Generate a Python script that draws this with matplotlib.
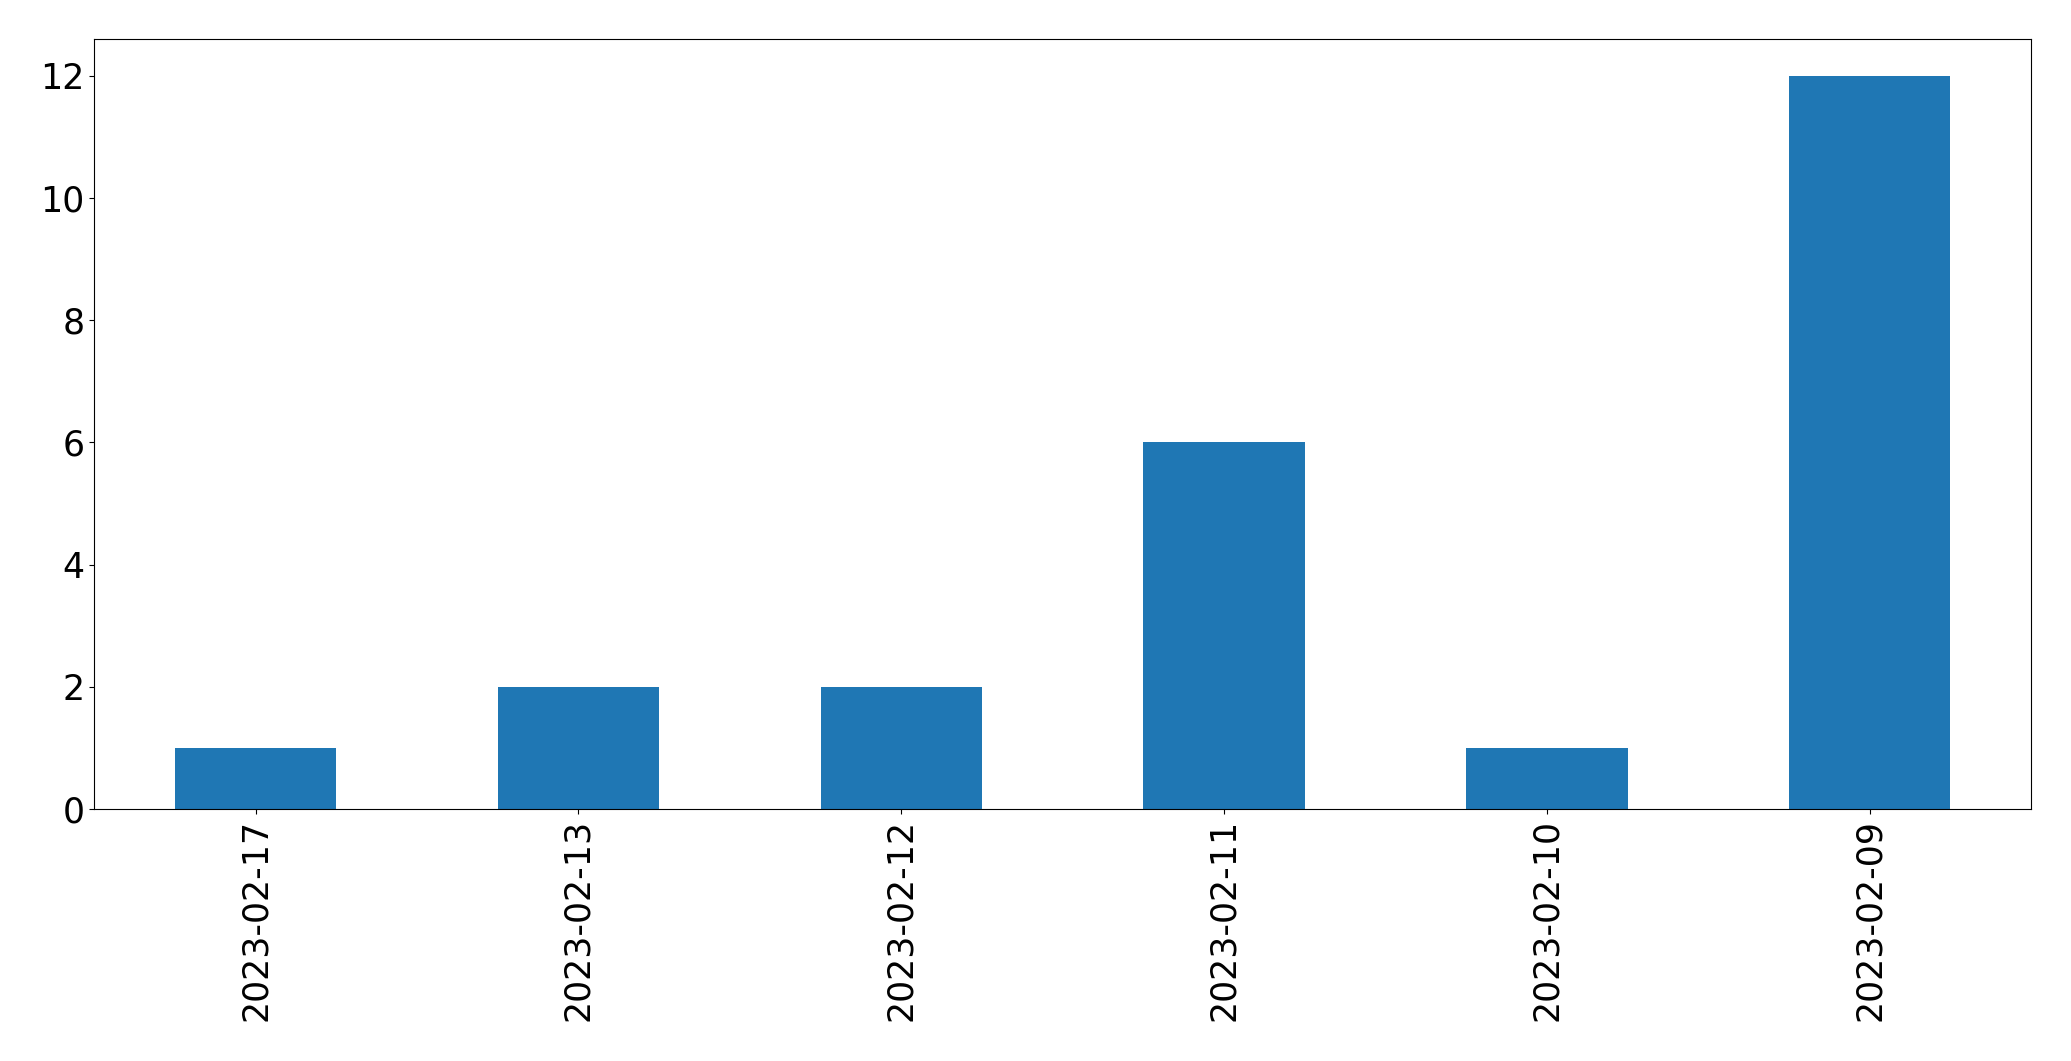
import matplotlib
matplotlib.use("Agg")
import matplotlib.pyplot as plt

dates = ["2023-02-17", "2023-02-13", "2023-02-12", "2023-02-11", "2023-02-10", "2023-02-09"]
counts = [1, 2, 2, 6, 1, 12]

fig = plt.figure(figsize=(20.71, 10.61), dpi=100)
ax = fig.add_axes([94.3 / 2071, 1 - 809 / 1061, (2031 - 94.3) / 2071, (809 - 39.3) / 1061])
x = list(range(len(dates)))
ax.bar(x, counts, width=0.5, color="#1f77b4")
ax.set_xlim(-0.5, len(dates) - 0.5)
ax.set_ylim(0, 12.6)
ax.set_xticks(x)
ax.set_xticklabels(dates, rotation=90)
ax.set_yticks([0, 2, 4, 6, 8, 10, 12])
ax.tick_params(labelsize=25)
fig.savefig("out.png", dpi=100)
